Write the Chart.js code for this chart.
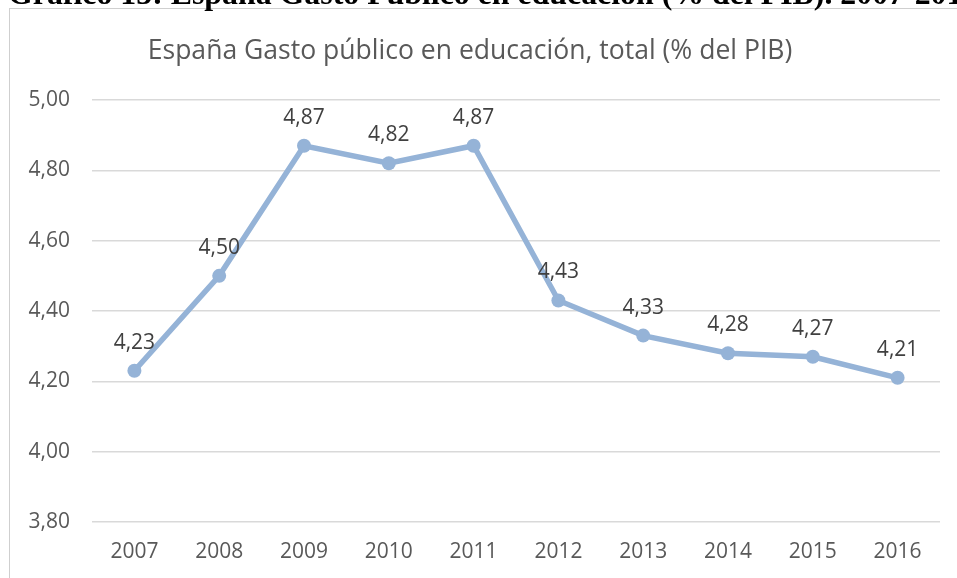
<!DOCTYPE html>
<html>
<head>
<meta charset="utf-8">
<script src="https://cdn.jsdelivr.net/npm/chart.js@4/dist/chart.umd.min.js"></script>
<style>
  html, body { margin: 0; padding: 0; background: #ffffff; overflow: hidden; }
  body { width: 957px; height: 578px; position: relative; }
  #heading { position: absolute; left: 8px; top: -20px; white-space: nowrap; font-family: "Liberation Serif", serif; font-weight: bold; color: #000; line-height: 28px; z-index: 2; }
  #box { position: absolute; left: 9px; top: 8px; width: 2000px; height: 2000px; border: 1px solid #cfcfcf; box-sizing: border-box; }
  #wrap { position: absolute; left: 0; top: 0; width: 957px; height: 578px; }
</style>
</head>
<body>
<div id="heading">Gráfico 13: España Gasto Público en educación (% del PIB). 2007-2016</div>
<div id="box"></div>
<div id="wrap"><canvas id="c" width="957" height="578"></canvas></div>
<script>
const titleText = "España Gasto público en educación, total (% del PIB)";
const years = ["2007", "2008", "2009", "2010", "2011", "2012", "2013", "2014", "2015", "2016"];
const gasto = [4.23, 4.50, 4.87, 4.82, 4.87, 4.43, 4.33, 4.28, 4.27, 4.21];
const yTicks = [3.80, 4.00, 4.20, 4.40, 4.60, 4.80, 5.00];

const FONT = "'Open Sans', 'Noto Sans', sans-serif";
const fmt = v => Number(v).toFixed(2).replace('.', ',');

// size fonts to match reference text widths
const mctx = document.createElement('canvas').getContext('2d');
function fitSize(text, family, weight, target) {
  mctx.font = weight + ' 100px ' + family;
  return 100 * target / mctx.measureText(text).width;
}
const headSize = fitSize("Gráfico 13: España Gasto Público e", "'Liberation Serif'", 'bold', 484);
const heading = document.getElementById('heading');
heading.style.fontSize = headSize.toFixed(2) + 'px';

const titleSize = fitSize(titleText, FONT, 'normal', 645);
const titleLH = titleSize * 1.2;
const titlePadTop = 51 - titleLH / 2;
const titlePadBottom = 100 - titlePadTop - titleLH;

const labelPlugin = {
  id: 'valueLabels',
  afterDatasetsDraw(chart) {
    const ctx = chart.ctx;
    const meta = chart.getDatasetMeta(0);
    const data = chart.data.datasets[0].data;
    ctx.save();
    ctx.font = '21px ' + FONT;
    ctx.fillStyle = '#404040';
    ctx.textAlign = 'center';
    ctx.textBaseline = 'middle';
    meta.data.forEach((pt, i) => {
      ctx.fillText(fmt(data[i]), pt.x, pt.y - 28);
    });
    ctx.restore();
  }
};

new Chart(document.getElementById('c'), {
  type: 'line',
  data: {
    labels: years,
    datasets: [{
      data: gasto,
      borderColor: '#95b3d7',
      backgroundColor: '#95b3d7',
      borderWidth: 5.5,
      pointRadius: 7,
      pointHoverRadius: 7,
      pointBorderWidth: 0,
      pointBackgroundColor: '#95b3d7',
      tension: 0,
      fill: false
    }]
  },
  options: {
    responsive: false,
    animation: false,
    devicePixelRatio: 1,
    layout: { padding: { left: 0, right: 17, top: 0, bottom: 0 } },
    plugins: {
      legend: { display: false },
      tooltip: { enabled: false },
      title: {
        display: true,
        text: titleText,
        color: '#595959',
        font: { family: FONT, size: titleSize, weight: 'normal', lineHeight: 1.2 },
        padding: { top: titlePadTop, bottom: titlePadBottom }
      }
    },
    scales: {
      x: {
        offset: true,
        grid: { display: false, drawTicks: false },
        border: { display: false },
        ticks: { color: '#595959', font: { family: FONT, size: 21 }, padding: 17, maxRotation: 0 },
        afterFit(s) { s.height = 56; }
      },
      y: {
        min: 3.8,
        max: 5.0,
        afterBuildTicks(s) { s.ticks = yTicks.map(v => ({ value: v })); },
        grid: { color: '#d9d9d9', lineWidth: 1.5, drawTicks: false },
        border: { display: false },
        ticks: { color: '#595959', font: { family: FONT, size: 21 }, padding: 22, callback: v => fmt(v) },
        afterFit(s) { s.width = 92; }
      }
    }
  },
  plugins: [labelPlugin]
});
</script>
</body>
</html>
